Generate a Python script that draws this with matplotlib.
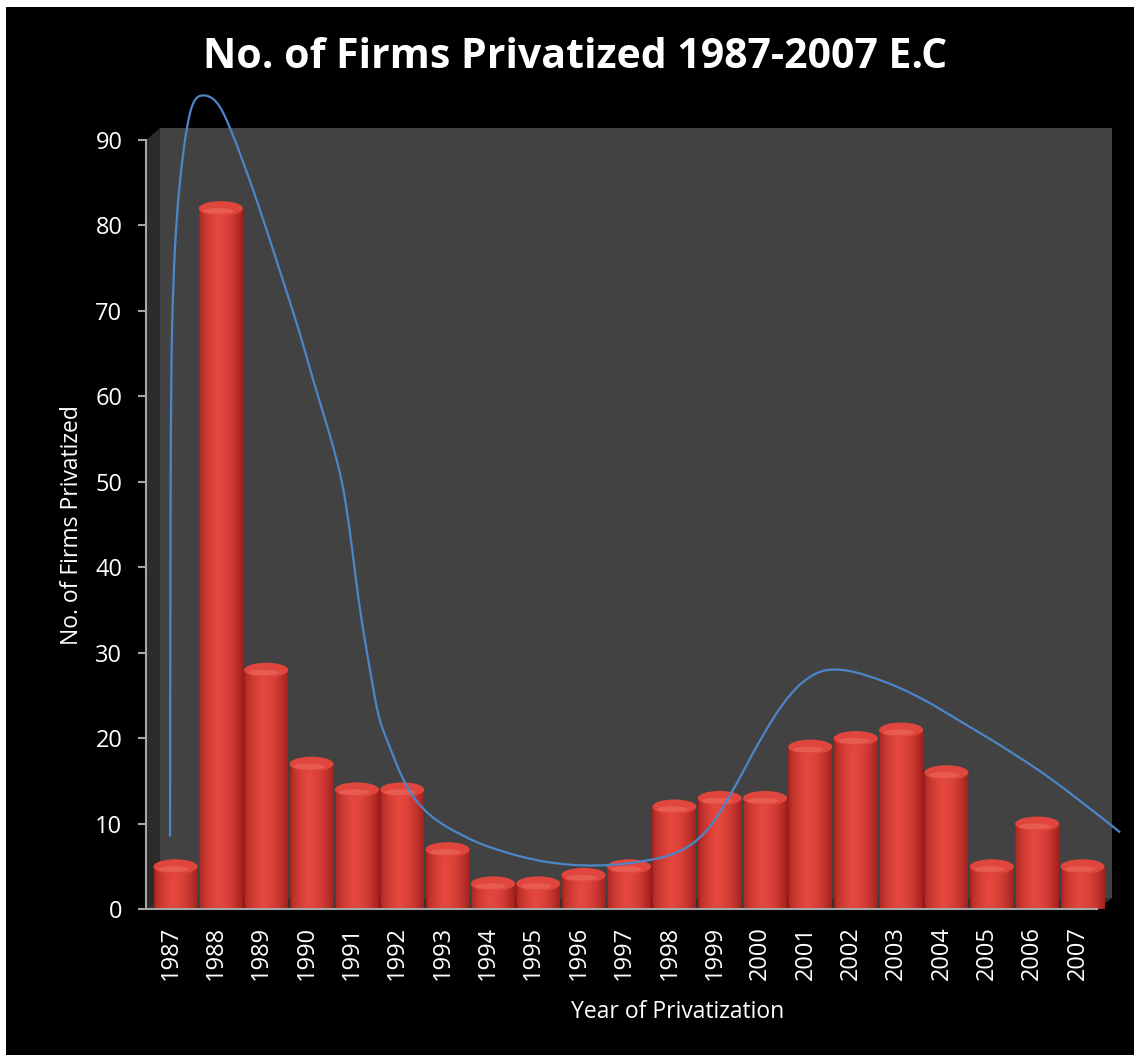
import matplotlib
matplotlib.use("Agg")
import matplotlib.pyplot as plt
import numpy as np
from matplotlib.patches import Polygon, Rectangle, Ellipse
from matplotlib.path import Path
from matplotlib.patches import PathPatch
from matplotlib.colors import to_rgb
from matplotlib.transforms import ScaledTranslation

plt.rcParams["font.family"] = ["Open Sans", "DejaVu Sans"]

YEARS = [str(y) for y in range(1987, 2008)]
FIRMS = [5, 82, 28, 17, 14, 14, 7, 3, 3, 4, 5, 12, 13, 13, 19, 20, 21, 16, 5, 10, 5]

# hand-drawn trend curve, (category position, firms)
CURVE_X = [-0.12, -0.115, -0.10, -0.05, 0.03, 0.14, 0.25, 0.39, 0.60, 0.91,
           1.20, 1.64, 2.01, 2.38, 2.75, 3.03, 3.26, 3.48, 3.67, 3.79, 3.89,
           3.98, 4.08, 4.20, 4.33, 4.47, 4.66, 5.10, 5.61, 6.35, 7.08, 8.19,
           9.29, 10.39, 11.12, 11.71, 12.23, 12.96, 13.55, 14.06, 14.51,
           15.17, 16.27, 17.37, 18.47, 19.58, 20.83]
CURVE_Y = [8.5, 36.2, 62.7, 73.6, 81.5, 87.3, 91.6, 94.7, 95.4, 94.7,
           91.6, 85.3, 79.5, 73.4, 67.3, 62.0, 58.0, 54.1, 50.2, 46.3, 42.4,
           38.5, 34.6, 30.7, 26.8, 22.5, 19.8, 14.0, 10.8, 8.5, 6.9, 5.4,
           5.0, 5.6, 6.6, 8.9, 13.2, 20.6, 25.3, 27.6, 28.2,
           27.6, 25.3, 21.8, 18.3, 14.3, 9.0]

W, H = 1134, 1055
fig = plt.figure(figsize=(W / 100, H / 100), dpi=100, facecolor="black")

# thin white strips along top and left edge
fig.patches.append(Rectangle((0, 1 - 7 / H), 1, 7 / H, transform=fig.transFigure,
                             facecolor="white", edgecolor="none"))
fig.patches.append(Rectangle((0, 0), 6 / W, 1, transform=fig.transFigure,
                             facecolor="white", edgecolor="none"))

# axes box in pixels: x 146..1112, y(0)=909.3, y(90)=140
px_l, px_r, px_b, px_t = 146, 1112, 909.3, 140
ax = fig.add_axes([px_l / W, 1 - px_b / H, (px_r - px_l) / W, (px_b - px_t) / H])
ax.set_facecolor("none")
step = 45.35
x0 = (px_l - 175.5) / step
x1 = (px_r - 175.5) / step
ax.set_xlim(x0, x1)
ax.set_ylim(0, 90)
upp = 90 / (px_b - px_t)  # data units per pixel in y


def px2x(p):
    return (p - 175.5) / step


def py2y(p):
    return (px_b - p) * upp


# 3-D box: back wall, left side, floor
wall = Polygon([(px2x(160), py2y(898)), (px2x(1112), py2y(898)),
                (px2x(1112), py2y(128)), (px2x(160), py2y(128))],
               closed=True, facecolor="#424242", edgecolor="none", zorder=0,
               clip_on=False)
side = Polygon([(x0, 0), (px2x(160), py2y(898)), (px2x(160), py2y(128)),
                (x0, 90)], closed=True, facecolor="#2b2b2b", edgecolor="none",
               zorder=0, clip_on=False)
floor = Polygon([(x0, 0), (px2x(1097), 0), (px2x(1112), py2y(898)),
                 (px2x(160), py2y(898))], closed=True, facecolor="#333333",
                edgecolor="none", zorder=0, clip_on=False)
for p in (wall, side, floor):
    ax.add_patch(p)

# cylinder shading across the bar width
edge = np.array(to_rgb("#9c1f1b"))
mid = np.array(to_rgb("#d8352d"))
hi = np.array(to_rgb("#e4473e"))
t = np.linspace(0, 1, 64)
shade = np.empty((1, 64, 3))
for k, v in enumerate(t):
    if v < 0.4:
        f = (v / 0.4) ** 0.5
        c = edge * (1 - f) + hi * f
    else:
        f = ((v - 0.4) / 0.6) ** 2
        c = hi * (1 - f) + edge * f * 0.9 + mid * 0.1 * f
    shade[0, k] = c

bw = 0.97
cap_h = 1.7
for i, v in enumerate(FIRMS):
    left = i - bw / 2
    im = ax.imshow(shade, extent=(left, left + bw, 0, v), aspect="auto",
                   interpolation="bilinear", zorder=2)
    clip = Rectangle((left, 0), bw, v, transform=ax.transData)
    im.set_clip_path(clip)
    ax.add_patch(Ellipse((i, v), bw, cap_h, facecolor="#e0463d",
                         edgecolor="none", zorder=2.1))
    ax.add_patch(Ellipse((i - 0.05, v - 0.3), bw * 0.7, cap_h * 0.4,
                         facecolor="#ec6a5f", edgecolor="none", zorder=2.2,
                         alpha=0.6))

# smooth trend curve through the control points
pts = np.column_stack([CURVE_X, CURVE_Y])
verts = [pts[0]]
codes = [Path.MOVETO]
for k in range(1, len(pts) - 1):
    end = pts[k + 1] if k == len(pts) - 2 else (pts[k] + pts[k + 1]) / 2
    verts += [pts[k], end]
    codes += [Path.CURVE3, Path.CURVE3]
ax.add_patch(PathPatch(Path(verts, codes), facecolor="none", edgecolor="#4a86c8",
                       lw=1.6, zorder=3, clip_on=False))

# axes styling
for s in ("top", "right"):
    ax.spines[s].set_visible(False)
ax.spines["left"].set_color("#a6a6a6")
ax.spines["bottom"].set_color("#a6a6a6")
ax.spines["left"].set_linewidth(1.5)
ax.spines["bottom"].set_linewidth(1.5)
ax.spines["bottom"].set_bounds(x0, px2x(1097))
ax.spines["left"].set_zorder(1)

ax.set_yticks(range(0, 91, 10))
ax.tick_params(axis="y", colors="#a6a6a6", length=6, width=1.5, pad=11,
               labelcolor="white", labelsize=17)
ax.set_xticks(range(len(YEARS)))
ax.set_xticklabels(YEARS, rotation=90)
ax.tick_params(axis="x", length=0, pad=12, labelcolor="white", labelsize=17)
for lab in ax.get_xticklabels():
    lab.set_transform(lab.get_transform() + ScaledTranslation(-0.05, 0, fig.dpi_scale_trans))

fig.text(72 / W, 1 - 525 / H, "No. of Firms Privatized", rotation=90, color="white",
         fontsize=16.5, ha="center", va="center")
fig.text(678 / W, 1 - 1012 / H, "Year of Privatization", color="white",
         fontsize=16.5, ha="center", va="center")
fig.text(575 / W, 1 - 57 / H, "No. of Firms Privatized 1987-2007 E.C", color="white",
         fontsize=29.5, fontweight="bold", ha="center", va="center")

fig.savefig("out.png", dpi=100, facecolor="black")
